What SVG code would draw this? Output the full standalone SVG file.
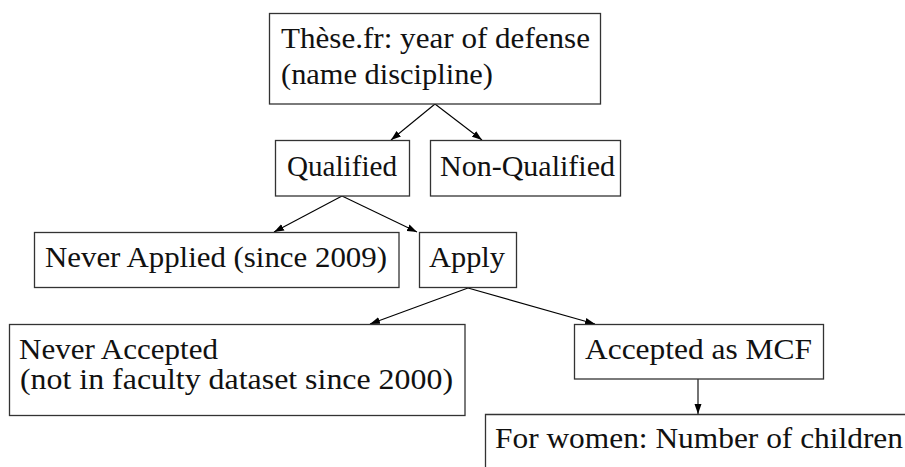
<svg xmlns="http://www.w3.org/2000/svg" width="905" height="467" viewBox="0 0 905 467">
<defs>
<marker id="ah" markerUnits="userSpaceOnUse" markerWidth="11" markerHeight="8" refX="10" refY="4" orient="auto">
<path d="M0,0.5 L10,4 L0,7.5 z" fill="#000"/>
</marker>
<style>
.box{fill:#fff;stroke:#333;stroke-width:1.3}
.t{font-family:'Liberation Serif','Times New Roman',serif;font-size:30px;fill:#111}
.c{stroke:#000;stroke-width:1.1;fill:none;marker-end:url(#ah)}
</style>
</defs>
<rect width="905" height="467" fill="#fff"/>
<g id="connectors">
<line class="c" x1="435" y1="104" x2="391" y2="140"/>
<line class="c" x1="435" y1="104" x2="482" y2="140"/>
<line class="c" x1="342" y1="196" x2="274" y2="232"/>
<line class="c" x1="342" y1="196" x2="417" y2="232"/>
<line class="c" x1="468" y1="288" x2="370" y2="324"/>
<line class="c" x1="468" y1="288" x2="595" y2="324"/>
<line class="c" x1="698" y1="379" x2="698" y2="414"/>
</g>
<g id="these">
<rect class="box" x="269.5" y="13.5" width="331" height="90.5"/>
<text class="t" x="281" y="48" textLength="309" lengthAdjust="spacingAndGlyphs">Thèse.fr: year of defense</text>
<text class="t" x="281" y="84" textLength="212" lengthAdjust="spacingAndGlyphs">(name discipline)</text>
</g>
<g id="qualified">
<rect class="box" x="275.5" y="140.5" width="134" height="55.5"/>
<text class="t" x="287" y="176" textLength="110" lengthAdjust="spacingAndGlyphs">Qualified</text>
</g>
<g id="nonqualified">
<rect class="box" x="430.5" y="140.5" width="190" height="55.5"/>
<text class="t" x="440" y="176" textLength="175" lengthAdjust="spacingAndGlyphs">Non-Qualified</text>
</g>
<g id="neverapplied">
<rect class="box" x="34.5" y="232.5" width="364.5" height="55"/>
<text class="t" x="45" y="267" textLength="342" lengthAdjust="spacingAndGlyphs">Never Applied (since 2009)</text>
</g>
<g id="apply">
<rect class="box" x="419.5" y="232.5" width="97" height="55"/>
<text class="t" x="429" y="267" textLength="76" lengthAdjust="spacingAndGlyphs">Apply</text>
</g>
<g id="neveraccepted">
<rect class="box" x="9.5" y="324.5" width="455.5" height="91"/>
<text class="t" x="19" y="359" textLength="199" lengthAdjust="spacingAndGlyphs">Never Accepted</text>
<text class="t" x="20" y="389" textLength="433" lengthAdjust="spacingAndGlyphs">(not in faculty dataset since 2000)</text>
</g>
<g id="accepted">
<rect class="box" x="574.5" y="324.5" width="249" height="54.5"/>
<text class="t" x="585" y="359" textLength="227" lengthAdjust="spacingAndGlyphs">Accepted as MCF</text>
</g>
<g id="women">
<path class="box" d="M485.5,467 L485.5,414.5 L906,414.5" fill="none"/>
<text class="t" x="495" y="448" textLength="408" lengthAdjust="spacingAndGlyphs">For women: Number of children</text>
</g>
</svg>
